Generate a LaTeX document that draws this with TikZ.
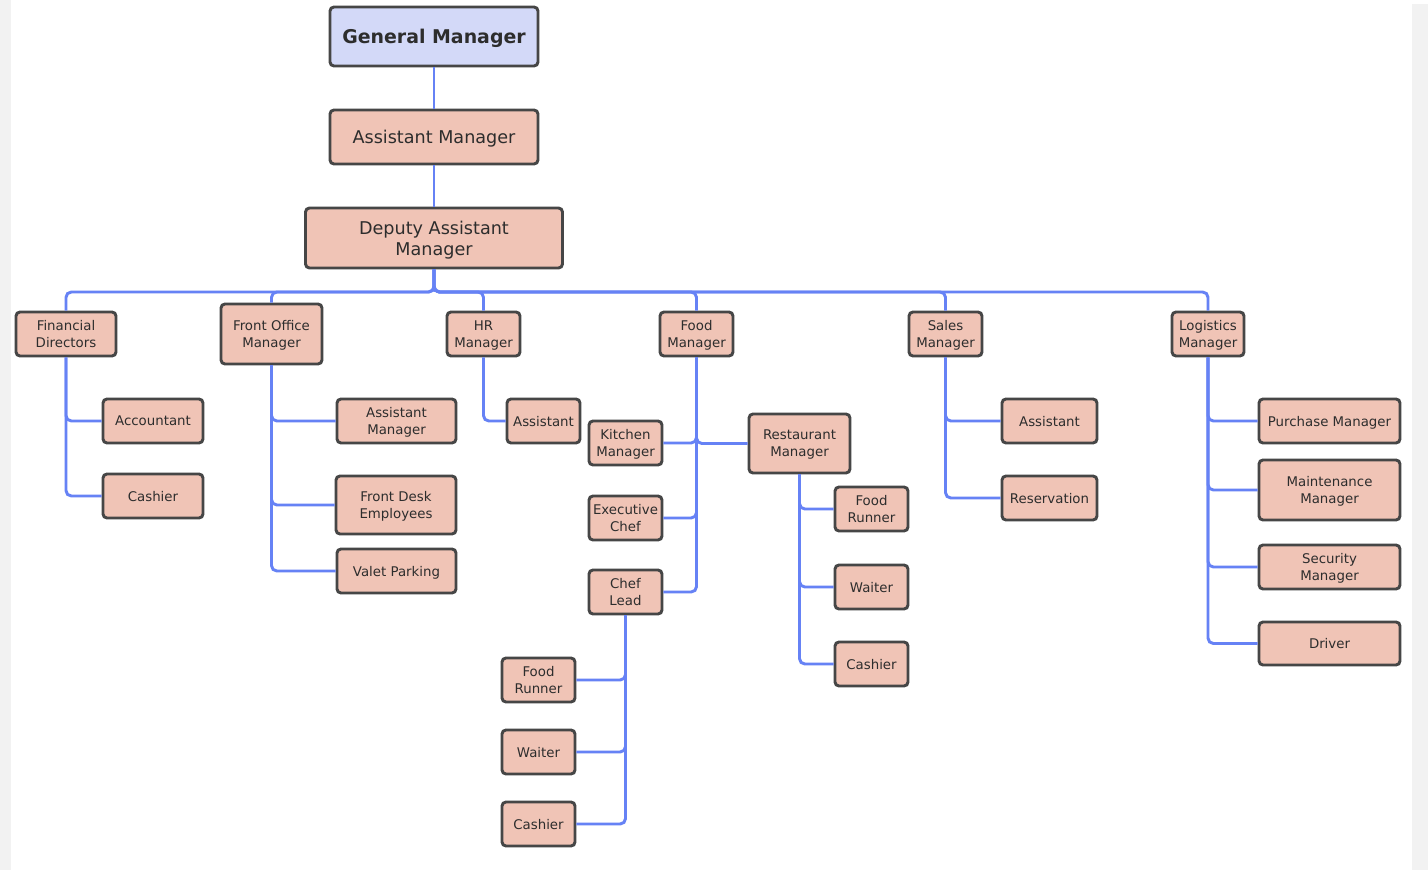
\documentclass[tikz,border=0pt]{standalone}
\usepackage{fontspec}
\setmainfont{DejaVu Sans}
\definecolor{boxfill}{RGB}{240,196,182}
\definecolor{gmfill}{RGB}{211,217,248}
\definecolor{boxline}{RGB}{70,70,70}
\definecolor{conn}{RGB}{102,130,245}
\definecolor{txt}{RGB}{45,45,45}
\definecolor{strip}{RGB}{242,242,242}
\begin{document}
\begin{tikzpicture}[x=0.75pt,y=-0.75pt,
  bx/.style n args={2}{draw=boxline,fill=boxfill,line width=2.2pt,rounded corners=3pt,
     minimum width=#1*0.75pt,minimum height=#2*0.75pt,inner sep=0pt,align=center,
     text depth=-1.7pt,text=txt,font=\fontsize{10}{12.75}\selectfont},
  bigbx/.style n args={2}{bx={#1}{#2},font=\fontsize{13.2}{15.75}\selectfont},
  link/.style={draw=conn,line width=2.2pt,rounded corners=4pt}]
\useasboundingbox (0,0) rectangle (1428,870);
\fill[white] (0,0) rectangle (1428,870);
\fill[strip] (0,0) rectangle (11,870);
\fill[strip] (1412,4) rectangle (1428,870);

% top chain
\node[bigbx={208}{59},fill=gmfill,font=\fontsize{14.2}{17}\selectfont\bfseries] (gm) at (434,36.5) {General Manager};
\node[bigbx={208}{54}] (am) at (434,137) {Assistant Manager};
\node[bigbx={257}{60}] (dam) at (434,238) {Deputy Assistant\\Manager};

% level 1
\node[bx={100}{44}] (fd) at (66,334) {Financial\\Directors};
\node[bx={101}{60}] (fom) at (271.5,334) {Front Office\\Manager};
\node[bx={73}{44}] (hr) at (483.5,334) {HR\\Manager};
\node[bx={73}{44}] (fm) at (696.5,334) {Food\\Manager};
\node[bx={73}{44}] (sm) at (945.5,334) {Sales\\Manager};
\node[bx={72}{44}] (lm) at (1208,334) {Logistics\\Manager};

% financial
\node[bx={100}{44}] (acc) at (153,421) {Accountant};
\node[bx={100}{44}] (cash1) at (153,496) {Cashier};

% front office
\node[bx={119}{44}] (foam) at (396.5,421) {Assistant\\Manager};
\node[bx={120}{58}] (fde) at (396,505) {Front Desk\\Employees};
\node[bx={119}{44}] (vp) at (396.5,571) {Valet Parking};

% HR
\node[bx={73}{44}] (hra) at (543.5,421) {Assistant};

% food
\node[bx={73}{44}] (km) at (625.5,443) {Kitchen\\Manager};
\node[bx={101}{59}] (rm) at (799.5,443.5) {Restaurant\\Manager};
\node[bx={73}{44}] (ec) at (625.5,518) {Executive\\Chef};
\node[bx={73}{44}] (cl) at (625.5,592) {Chef\\Lead};

\node[bx={73}{44}] (fr1) at (538.5,680) {Food\\Runner};
\node[bx={73}{44}] (w1) at (538.5,752) {Waiter};
\node[bx={73}{44}] (c2) at (538.5,824) {Cashier};

\node[bx={73}{44}] (fr2) at (871.5,509) {Food\\Runner};
\node[bx={73}{44}] (w2) at (871.5,587) {Waiter};
\node[bx={73}{44}] (c3) at (871.5,664) {Cashier};

% sales
\node[bx={95}{44}] (sa) at (1049.5,421) {Assistant};
\node[bx={95}{44}] (res) at (1049.5,498) {Reservation};

% logistics
\node[bx={141}{44}] (pm) at (1329.5,421) {Purchase Manager};
\node[bx={141}{60}] (mm) at (1329.5,490) {Maintenance\\Manager};
\node[bx={141}{44}] (secm) at (1329.5,567) {Security\\Manager};
\node[bx={141}{43}] (dr) at (1329.5,643.5) {Driver};

% connectors
\coordinate (bus) at (434,292);
\draw[link] (gm.south) -- (am.north);
\draw[link] (am.south) -- (dam.north);
\foreach \c in {fd,fom,hr,fm,sm,lm}{
  \draw[link] (dam.south) -- (bus) -| (\c.north);
}
\draw[link] (fd.south) |- (acc.west);
\draw[link] (fd.south) |- (cash1.west);
\draw[link] (fom.south) |- (foam.west);
\draw[link] (fom.south) |- (fde.west);
\draw[link] (fom.south) |- (vp.west);
\draw[link] (hr.south) |- (hra.west);
\draw[link] (fm.south) |- (km.east);
\draw[link] (fm.south) |- (rm.west);
\draw[link] (fm.south) |- (ec.east);
\draw[link] (fm.south) |- (cl.east);
\draw[link] (cl.south) |- (fr1.east);
\draw[link] (cl.south) |- (w1.east);
\draw[link] (cl.south) |- (c2.east);
\draw[link] (rm.south) |- (fr2.west);
\draw[link] (rm.south) |- (w2.west);
\draw[link] (rm.south) |- (c3.west);
\draw[link] (sm.south) |- (sa.west);
\draw[link] (sm.south) |- (res.west);
\draw[link] (lm.south) |- (pm.west);
\draw[link] (lm.south) |- (mm.west);
\draw[link] (lm.south) |- (secm.west);
\draw[link] (lm.south) |- (dr.west);
\end{tikzpicture}
\end{document}
